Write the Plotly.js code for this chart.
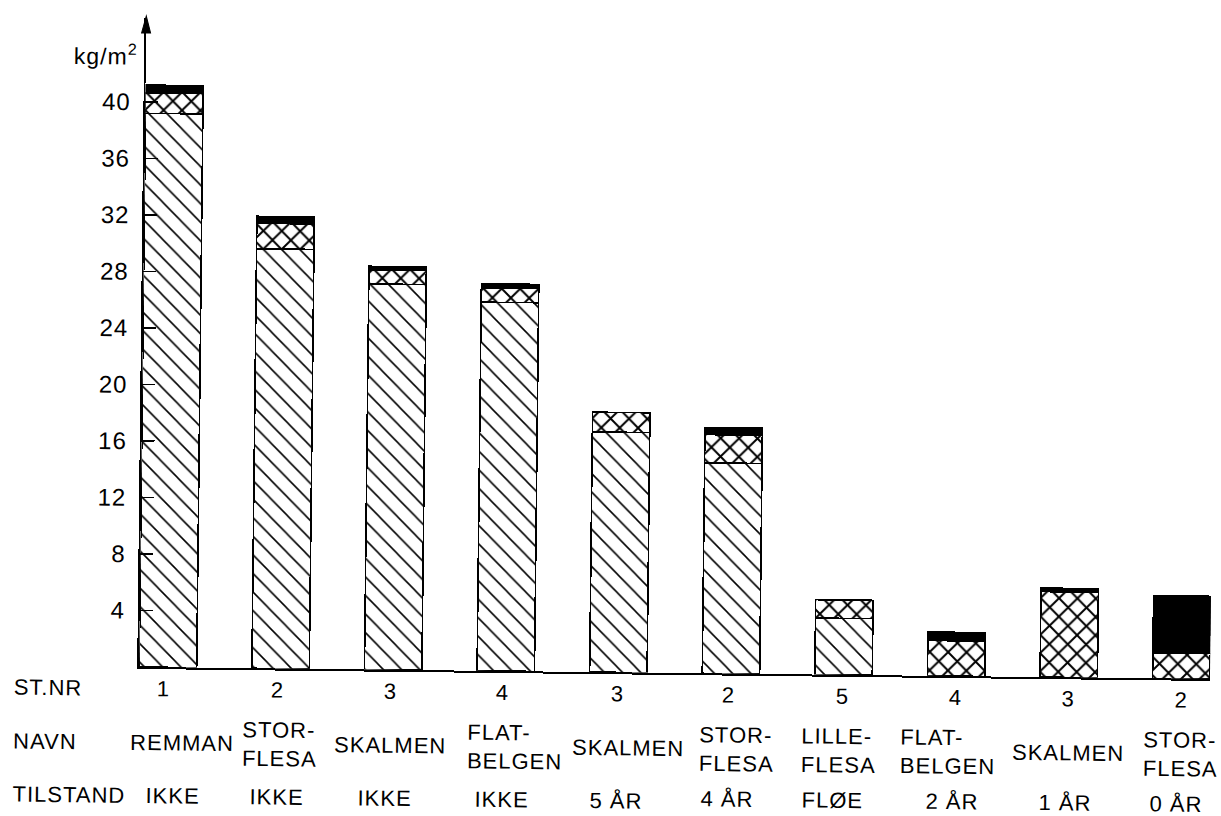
<!DOCTYPE html>
<html>
<head>
<meta charset="utf-8">
<script src="https://cdn.plot.ly/plotly-3.0.1.min.js"></script>
<style>
html,body{margin:0;padding:0;background:#fff;overflow:hidden;}
#chart{width:1221px;height:816px;transform:rotate(0.64deg);transform-origin:140px 667px;}
svg text{letter-spacing:1px;}
</style>
</head>
<body>
<div id="chart"></div>
<script>
// ---- data ----
const stNr = ['1','2','3','4','3','2','5','4','3','2'];
const navn = ['REMMAN','STOR-<br>FLESA','SKALMEN','FLAT-<br>BELGEN','SKALMEN','STOR-<br>FLESA','LILLE-<br>FLESA','FLAT-<br>BELGEN','SKALMEN','STOR-<br>FLESA'];
const tilstand = ['IKKE','IKKE','IKKE','IKKE','5 ÅR','4 ÅR','FLØE','2 ÅR','1 ÅR','0 ÅR'];
const diagonalPart = [39.2, 29.7, 27.3, 26.1, 17.0, 14.9, 4.0, 0, 0, 0];
const crossPart    = [1.45, 1.8, 1.0, 1.0, 1.4, 2.0, 1.3, 2.5, 6.05, 1.8];
const blackPart    = [0.55, 0.5, 0.25, 0.3, 0, 0.5, 0, 0.6, 0.25, 4.05];
const yTickVals = [4, 8, 12, 16, 20, 24, 28, 32, 36, 40];
const rowHeads = ['ST.NR', 'NAVN', 'TILSTAND'];
const unitLabel = 'kg/m<sup>2</sup>';

// ---- layout nudges (pixels) ----
const numShift  = [-4, -3, -3, -3, -1, -3, -1, -1, 0, 0];
const nameShift = [15, 0, -2, 10, 11, 6, -4, -8, 0, 0];
const condShift = [6, -3, -7, -3, -1, -3, -10, -3, -2, -4];

const FONT = 'Liberation Sans, Arial, Helvetica, sans-serif';
const xs = stNr.map((_, i) => i);
const lineStyle = {color: 'black', width: 1.6};

const traces = [
  {type: 'bar', x: xs, y: diagonalPart, width: 0.51, name: 'diagonal',
   marker: {color: 'white', line: lineStyle,
            pattern: {shape: '\\', fgcolor: 'black', bgcolor: 'white', size: 13, solidity: 0.12}},
   hoverinfo: 'skip'},
  {type: 'bar', x: xs, y: crossPart, width: 0.51, name: 'cross',
   marker: {color: 'white', line: lineStyle,
            pattern: {shape: 'x', fgcolor: 'black', bgcolor: 'white', size: 13, solidity: 0.28}},
   hoverinfo: 'skip'},
  {type: 'bar', x: xs, y: blackPart, width: 0.51, name: 'black',
   marker: {color: 'black', line: lineStyle},
   hoverinfo: 'skip'}
];

const plotH = 816 - 18 - 149;
const pxToPaper = Y => (667 - Y) / plotH;

const annotations = [];
const rowY = [689, 742.5, 792];
rowHeads.forEach((t, r) => {
  annotations.push({xref: 'paper', x: 0, xanchor: 'left', xshift: -127,
    yref: 'paper', y: pxToPaper(rowY[r] + (r === 2 ? 3 : 0)), yanchor: 'middle',
    text: t, showarrow: false, font: {family: FONT, size: 22, color: 'black'}});
});
xs.forEach(i => {
  annotations.push({xref: 'x', x: i, xshift: numShift[i], xanchor: 'center',
    yref: 'paper', y: pxToPaper(rowY[0]), yanchor: 'middle',
    text: stNr[i], showarrow: false, font: {family: FONT, size: 22, color: 'black'}});
  annotations.push({xref: 'x', x: i, xshift: nameShift[i], xanchor: 'center',
    yref: 'paper', y: pxToPaper(rowY[1]), yanchor: 'middle', align: 'left',
    text: navn[i], showarrow: false, font: {family: FONT, size: 22, color: 'black'}});
  annotations.push({xref: 'x', x: i, xshift: condShift[i], xanchor: 'center',
    yref: 'paper', y: pxToPaper(rowY[2] + (i < 5 ? 3 : 0)), yanchor: 'middle',
    text: tilstand[i], showarrow: false, font: {family: FONT, size: 22, color: 'black'}});
});
annotations.push({xref: 'paper', x: 0, xanchor: 'right', xshift: -6,
  yref: 'y', y: 43.3, yanchor: 'middle',
  text: unitLabel, showarrow: false, font: {family: FONT, size: 23, color: 'black'}});

const layout = {
  width: 1221, height: 816,
  margin: {l: 139, r: 11, t: 18, b: 149},
  paper_bgcolor: 'white', plot_bgcolor: 'white',
  barmode: 'stack', bargap: 0,
  showlegend: false,
  font: {family: FONT, size: 22, color: 'black'},
  xaxis: {range: [-0.2575, 9.254], showgrid: false, zeroline: false,
          showline: true, linecolor: 'black', linewidth: 2,
          showticklabels: false, ticks: '', fixedrange: true},
  yaxis: {range: [0, plotH / 14.125], showgrid: false, zeroline: false,
          showline: true, linecolor: 'black', linewidth: 1.8,
          tickmode: 'array', tickvals: yTickVals, ticktext: yTickVals.map(String),
          ticks: 'inside', ticklen: 13, tickwidth: 1.5, tickcolor: 'black',
          ticklabelstandoff: 8,
          tickfont: {family: FONT, size: 24, color: 'black'}, fixedrange: true},
  shapes: [
    {type: 'path', xref: 'paper', yref: 'paper', xsizemode: 'pixel', ysizemode: 'pixel',
     xanchor: 0, yanchor: 1, path: 'M0,2 L-4.5,-15 L4.5,-15 Z',
     fillcolor: 'black', line: {color: 'black', width: 1}}
  ],
  annotations: annotations
};

Plotly.newPlot('chart', traces, layout, {displayModeBar: false, staticPlot: true});
</script>
</body>
</html>
